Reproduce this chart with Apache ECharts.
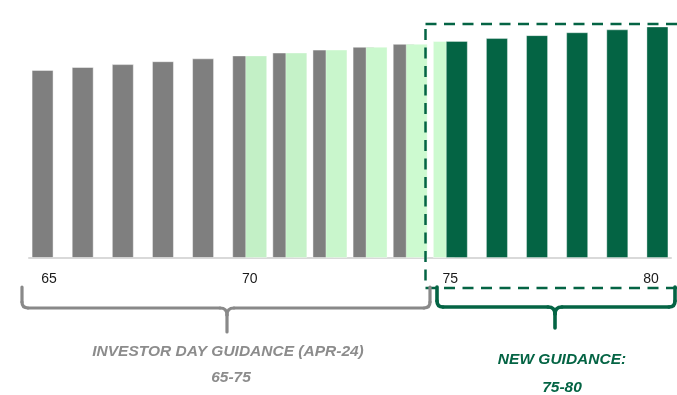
<!DOCTYPE html>
<html>
<head>
<meta charset="utf-8">
<script src="https://cdn.jsdelivr.net/npm/echarts@6/dist/echarts.min.js"></script>
<style>
  html, body { margin: 0; padding: 0; background: #ffffff; }
  #chart { width: 677px; height: 395px; }
</style>
</head>
<body>
<div id="chart"></div>
<script>
// ---- data ----
const categories = ['65','66','67','68','69','70','71','72','73','74','75','76','77','78','79','80'];
const investorDayValues = [65, 66, 67, 68, 69, 70, 71, 72, 73, 74, 75, null, null, null, null, null];
const newGuidanceValues = [null, null, null, null, null, 70, 71, 72, 73, 74, 75, 76, 77, 78, 79, 80];
const shownTickLabels = ['65', '70', '75', '80'];
const investorDayTitle = 'INVESTOR DAY GUIDANCE (APR-24)';
const investorDayRange = '65-75';
const newGuidanceTitle = 'NEW GUIDANCE:';
const newGuidanceRange = '75-80';

// ---- styles ----
const GRAY = '#7f7f7f';
const LIGHT_GREENS = ['#c3f0c6', '#c5f2c8', '#c9f6cc', '#cbf8ce', '#cdfad0'];
const LIGHT_GREEN_END = '#cdfad0';
const DARK_GREEN = '#046444';
const BRACE_GRAY = '#898989';
const TEXT_GRAY = '#8c8c8c';
const FONT = '"Liberation Sans", Arial, sans-serif';

function brace(xL, xR, xTip, yTop, yMid, yTip, r, color, width) {
  const st = { fill: 'none', stroke: color, lineWidth: width, lineCap: 'round' };
  const L = (x1, y1, x2, y2) => ({ type: 'line', z: 100, shape: { x1, y1, x2, y2 }, style: st });
  const B = (x1, y1, x2, y2, cpx1, cpy1) => ({ type: 'bezierCurve', z: 100, shape: { x1, y1, x2, y2, cpx1, cpy1 }, style: st });
  const r2 = 7;
  return [
    L(xL, yTop, xL, yMid - r),
    B(xL, yMid - r, xL + r, yMid, xL, yMid),
    L(xL + r, yMid, xTip - r2, yMid),
    B(xTip - r2, yMid, xTip, yMid + r2, xTip, yMid),
    L(xTip, yMid + r2, xTip, yTip),
    B(xTip + r2, yMid, xTip, yMid + r2, xTip, yMid),
    L(xTip + r2, yMid, xR - r, yMid),
    B(xR - r, yMid, xR, yMid - r, xR, yMid),
    L(xR, yMid - r, xR, yTop)
  ];
}

function label(text, x, y, color) {
  return {
    type: 'text', z: 100, x: x, y: y,
    style: { text: text, align: 'center', verticalAlign: 'middle', textAlign: 'center', textVerticalAlign: 'middle',
             fontSize: 15.5, fontWeight: 'bold', fontStyle: 'italic', fontFamily: FONT, fill: color }
  };
}

const chart = echarts.init(document.getElementById('chart'), null, { renderer: 'canvas' });

const option = {
  animation: false,
  backgroundColor: '#ffffff',
  grid: { left: 29, right: 6, top: 12, bottom: 137, containLabel: false },
  xAxis: {
    type: 'category',
    data: categories,
    axisTick: { show: false },
    axisLine: { show: true, lineStyle: { color: '#d9d9d9', width: 2 } },
    axisLabel: {
      interval: 0,
      margin: 14,
      fontSize: 14,
      fontFamily: FONT,
      color: '#1a1a1a',
      formatter: function (v) { return shownTickLabels.indexOf(v) >= 0 ? v : ''; }
    },
    splitLine: { show: false }
  },
  yAxis: {
    type: 'value',
    min: 0,
    max: 85,
    show: false,
    splitLine: { show: false }
  },
  series: [
    {
      type: 'bar',
      data: investorDayValues,
      barWidth: 22,
      barGap: '-41%',
      itemStyle: {
        color: function (p) { return p.dataIndex < 10 ? GRAY : LIGHT_GREEN_END; },
        borderColor: 'rgba(255,255,255,0.45)',
        borderWidth: 1
      }
    },
    {
      type: 'bar',
      data: newGuidanceValues,
      barWidth: 22,
      barGap: '-41%',
      itemStyle: {
        color: function (p) { return p.dataIndex < 10 ? LIGHT_GREENS[p.dataIndex - 5] : DARK_GREEN; },
        borderColor: 'rgba(255,255,255,0.35)',
        borderWidth: 1
      }
    }
  ],
  graphic: [
    {
      type: 'rect',
      z: 100,
      shape: { x: 425.5, y: 24, width: 262, height: 264 },
      style: { fill: 'none', stroke: DARK_GREEN, lineWidth: 2.5, lineDash: [11, 7.5] }
    }
  ].concat(
    brace(22, 430, 227, 287, 308, 332, 6, BRACE_GRAY, 3.2),
    brace(437, 675, 555, 287, 307, 328, 6, DARK_GREEN, 3.6),
    [
      label(investorDayTitle, 228, 352, TEXT_GRAY),
      label(investorDayRange, 231, 378, TEXT_GRAY),
      label(newGuidanceTitle, 562, 360, DARK_GREEN),
      label(newGuidanceRange, 562, 388, DARK_GREEN)
    ]
  )
};

chart.setOption(option);
</script>
</body>
</html>
